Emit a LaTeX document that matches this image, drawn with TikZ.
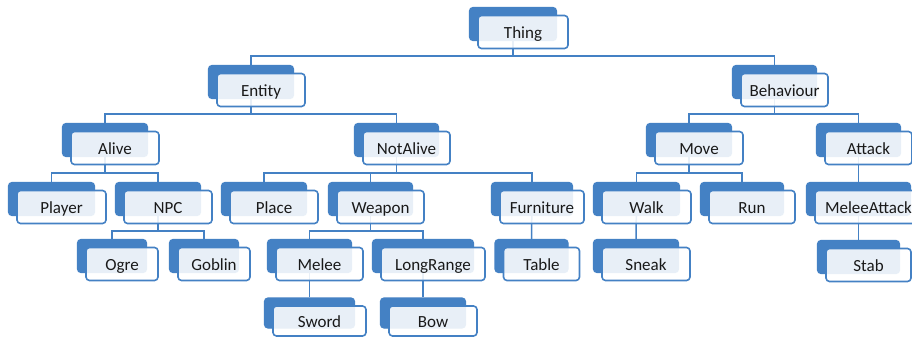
\documentclass[tikz,border=0pt]{standalone}
\usepackage{fontspec}
\setmainfont{Carlito}
\pgfdeclarelayer{bg}
\pgfsetlayers{bg,main}
\definecolor{sablue}{RGB}{68,129,196}
\definecolor{satext}{RGB}{25,25,25}
\tikzset{
  backbox/.style={draw=sablue, fill=sablue, line width=1.2pt, rounded corners=3.5pt, minimum height=33pt, inner sep=0pt},
  frontbox/.style={draw=sablue, line width=1.6pt, rounded corners=3.5pt, minimum height=33pt, inner sep=0pt,
    fill=white, fill opacity=0.88, text opacity=1, text=satext, font=\fontsize{17pt}{20pt}\selectfont,
    text height=13pt, text depth=0pt},
  conn/.style={draw=sablue, line width=1.5pt},
}
\newcommand\sabox[6][]{%
  \node[backbox, minimum width=#5pt-3pt, #1] (#2-b) at (#3-10,#4-8) {};
  \node[frontbox, minimum width=#5pt, #1] (#2) at (#3,#4) {#6};
}
\newcommand\sacon[3]{\draw[conn] (#1-b.center) -- (#1-b.center |- #3) -| (#2-b.north);}
\begin{document}
\begin{tikzpicture}[x=1pt,y=-1pt]
\clip (0,0) rectangle (912,337);
\coordinate (bus1) at (0,56);
\coordinate (bus2) at (0,114);
\coordinate (bus3) at (0,173);
\coordinate (bus4) at (0,231);
% row 1
\sabox{thing}{523}{32}{90}{Thing}
% row 2
\sabox{entity}{261}{90}{88}{Entity}
\sabox{behaviour}{784.5}{90}{87}{Behaviour}
% row 3
\sabox{alive}{115}{148}{88}{Alive}
\sabox{notalive}{406.5}{148}{87}{NotAlive}
\sabox{move}{699}{148}{88}{Move}
\sabox{attack}{868.5}{148}{87}{Attack}
% row 4
\sabox{player}{61.5}{207}{89}{Player}
\sabox{npc}{168}{207}{88}{NPC}
\sabox{place}{274}{207}{88}{Place}
\sabox{weapon}{380.5}{207}{87}{Weapon}
\sabox{furniture}{542}{207}{84}{Furniture}
\sabox{walk}{646.5}{207}{89}{Walk}
\sabox{run}{752}{207}{86}{Run}
\sabox{meleeattack}{868.5}{207}{107}{MeleeAttack}
% row 5
\sabox{ogre}{122}{264}{72}{Ogre}
\sabox{goblin}{214}{264}{72}{Goblin}
\sabox{melee}{319.5}{264}{87}{Melee}
\sabox{longrange}{433}{264}{104}{LongRange}
\sabox{table}{541.5}{264}{76}{Table}
\sabox{sneak}{646}{264}{88}{Sneak}
\sabox{stab}{868.5}{265}{85}{Stab}
% row 6
\sabox[minimum height=30pt]{sword}{319.5}{321}{93}{Sword}
\sabox[minimum height=30pt]{bow}{433}{321}{88}{Bow}
\begin{pgfonlayer}{bg}
\fill[white] (0,0) rectangle (912,337);
\sacon{thing}{entity}{bus1}
\sacon{thing}{behaviour}{bus1}
\sacon{entity}{alive}{bus2}
\sacon{entity}{notalive}{bus2}
\sacon{behaviour}{move}{bus2}
\sacon{behaviour}{attack}{bus2}
\sacon{alive}{player}{bus3}
\sacon{alive}{npc}{bus3}
\sacon{notalive}{place}{bus3}
\sacon{notalive}{weapon}{bus3}
\sacon{notalive}{furniture}{bus3}
\sacon{move}{walk}{bus3}
\sacon{move}{run}{bus3}
\draw[conn] (attack-b.center) -- (meleeattack-b.north);
\sacon{npc}{ogre}{bus4}
\sacon{npc}{goblin}{bus4}
\sacon{weapon}{melee}{bus4}
\sacon{weapon}{longrange}{bus4}
\draw[conn] (furniture-b.center) -- (table-b.north);
\draw[conn] (walk-b.center) -- (sneak-b.north);
\draw[conn] (meleeattack-b.center) -- (stab-b.north);
\draw[conn] (melee-b.center) -- (sword-b.north);
\draw[conn] (longrange-b.center) -- (bow-b.north);
\end{pgfonlayer}
\end{tikzpicture}
\end{document}
